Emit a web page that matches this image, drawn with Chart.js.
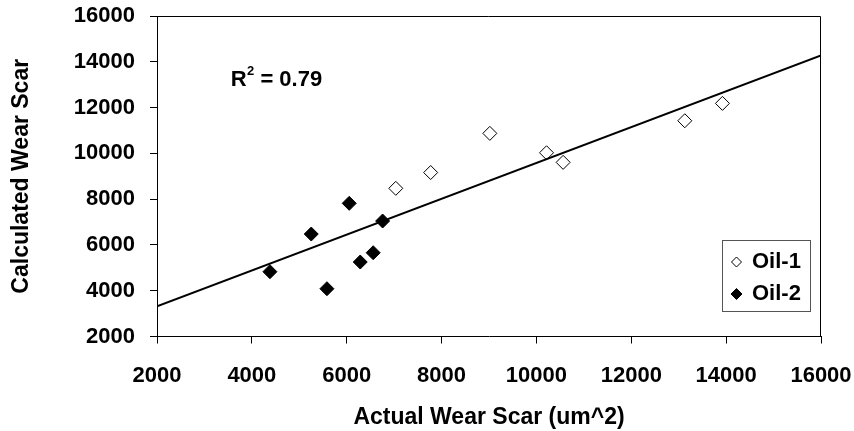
<!DOCTYPE html>
<html><head><meta charset="utf-8">
<script src="https://cdn.jsdelivr.net/npm/chart.js@4"></script>
<style>html,body{margin:0;padding:0;background:#fff;}#wrap{width:854px;height:431px;}</style>
</head><body><div id="wrap"><canvas id="c" width="854" height="431"></canvas></div>
<script>
// ---- data ----
const seriesNames = ['Oil-1', 'Oil-2'];
const oil1X = [7035, 7770, 9018, 10213, 10563, 13128, 13922];
const oil1Y = [8472, 9162, 10873, 10026, 9607, 11424, 12183];
const oil2X = [4381, 5252, 6053, 6757, 6558, 6285, 5583];
const oil2Y = [4830, 6476, 7817, 7044, 5659, 5253, 4087];
const trendX = [2000, 16000];
const trendY = [3320, 14280];
const xTickValues = [2000, 4000, 6000, 8000, 10000, 12000, 14000, 16000];
const yTickValues = [2000, 4000, 6000, 8000, 10000, 12000, 14000, 16000];
const xTitle = 'Actual Wear Scar (um^2)';
const yTitle = 'Calculated Wear Scar';
const rSquaredValue = '0.79';
const rLabelAt = [3553, 12939]; // data coords of the R² label baseline start

const F = '"Liberation Sans", Arial, sans-serif';
Chart.defaults.font.family = F;
Chart.defaults.font.weight = 'bold';
Chart.defaults.color = '#000';

function pts(xs, ys) { return xs.map((x, i) => ({ x: x, y: ys[i] })); }

function diamond(ctx, cx, cy, r, fill) {
  ctx.beginPath();
  ctx.moveTo(cx - r, cy); ctx.lineTo(cx, cy - r); ctx.lineTo(cx + r, cy); ctx.lineTo(cx, cy + r);
  ctx.closePath();
  ctx.fillStyle = fill; ctx.fill();
  ctx.lineWidth = 1; ctx.strokeStyle = '#000'; ctx.stroke();
}

const decor = {
  id: 'decor',
  afterDraw(chart) {
    const { ctx, chartArea: a, scales: { x, y } } = chart;
    ctx.save();
    // plot-area frame (top & right)
    ctx.strokeStyle = '#000'; ctx.lineWidth = 1;
    ctx.beginPath();
    ctx.moveTo(a.left, Math.round(a.top) + 0.5);
    ctx.lineTo(Math.round(a.right) - 0.5, Math.round(a.top) + 0.5);
    ctx.lineTo(Math.round(a.right) - 0.5, a.bottom);
    ctx.stroke();
    // R² label
    const px = x.getPixelForValue(rLabelAt[0]), py = y.getPixelForValue(rLabelAt[1]);
    ctx.fillStyle = '#000'; ctx.textAlign = 'left'; ctx.textBaseline = 'alphabetic';
    ctx.font = 'bold 22px ' + F;
    ctx.fillText('R', px, py);
    const wR = ctx.measureText('R').width;
    ctx.font = 'bold 13px ' + F;
    ctx.fillText('2', px + wR + 0.5, py - 11);
    const w2 = ctx.measureText('2').width;
    ctx.font = 'bold 22px ' + F;
    ctx.fillText(' = ' + rSquaredValue, px + wR + 0.5 + w2, py);
    // legend
    const lx = Math.round(a.right - 99), ly = Math.round(a.top + 224), lw = 88, lh = 71;
    ctx.fillStyle = '#fff'; ctx.fillRect(lx, ly, lw, lh);
    ctx.strokeStyle = '#555'; ctx.lineWidth = 1;
    ctx.strokeRect(lx + 0.5, ly + 0.5, lw, lh);
    const rows = [ly + 22, ly + 54];
    diamond(ctx, lx + 14.5, rows[0], 5, '#fff');
    diamond(ctx, lx + 14.5, rows[1], 5.5, '#000');
    ctx.fillStyle = '#000'; ctx.font = 'bold 22px ' + F; ctx.textBaseline = 'middle';
    ctx.fillText(seriesNames[0], lx + 30, rows[0]);
    ctx.fillText(seriesNames[1], lx + 30, rows[1]);
    ctx.restore();
  }
};

const tickFont = { size: 22, weight: 'bold', family: F };
const titleFont = { size: 23, weight: 'bold', family: F };
function zeroPad(s) { s.paddingTop = 0; s.paddingBottom = 0; s.paddingLeft = 0; s.paddingRight = 0; }

new Chart(document.getElementById('c'), {
  type: 'scatter',
  data: {
    datasets: [
      { label: 'Linear fit', data: pts(trendX, trendY), showLine: true, borderColor: '#000', borderWidth: 2,
        pointRadius: 0, pointHoverRadius: 0, fill: false },
      { label: seriesNames[0], data: pts(oil1X, oil1Y), pointStyle: 'rectRot', pointRadius: 7,
        backgroundColor: '#fff', borderColor: '#000', borderWidth: 1 },
      { label: seriesNames[1], data: pts(oil2X, oil2Y), pointStyle: 'rectRot', pointRadius: 7,
        backgroundColor: '#000', borderColor: '#000', borderWidth: 1 }
    ]
  },
  options: {
    responsive: false, animation: false,
    layout: { padding: { top: 16, right: 33, left: 0, bottom: 0 } },
    plugins: { legend: { display: false }, tooltip: { enabled: false } },
    scales: {
      x: {
        type: 'linear', position: 'bottom', min: 2000, max: 16000,
        afterBuildTicks(s) { s.ticks = xTickValues.map(v => ({ value: v })); },
        afterFit(s) { s.height = 94.5; zeroPad(s); },
        ticks: { font: tickFont, color: '#000', padding: 19, maxRotation: 0, autoSkip: false, callback: v => String(v) },
        grid: { drawOnChartArea: false, drawTicks: true, tickLength: 7, color: '#000' },
        border: { display: true, color: '#000', width: 1 },
        title: { display: true, text: xTitle, font: titleFont, color: '#000', padding: { top: 0, bottom: 0 } }
      },
      y: {
        type: 'linear', position: 'left', min: 2000, max: 16000,
        afterBuildTicks(s) { s.ticks = yTickValues.map(v => ({ value: v })); },
        afterFit(s) { s.width = 157; zeroPad(s); },
        ticks: { font: tickFont, color: '#000', padding: 15, autoSkip: false, callback: v => String(v) },
        grid: { drawOnChartArea: false, drawTicks: true, tickLength: 7, color: '#000' },
        border: { display: true, color: '#000', width: 1 },
        title: { display: true, text: yTitle, font: titleFont, color: '#000', padding: { top: 8, bottom: 0 } }
      }
    }
  },
  plugins: [decor]
});
</script></body></html>
